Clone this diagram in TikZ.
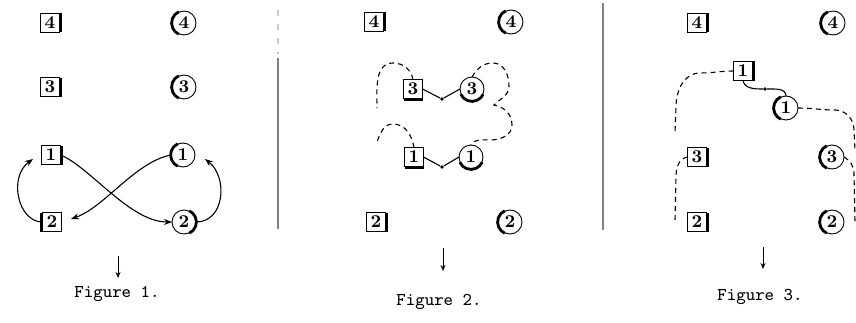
\documentclass[tikz,border=0pt]{standalone}
\usetikzlibrary{arrows.meta}

\tikzset{
  sqr/.style={draw, rectangle, minimum size=9.5pt, inner sep=0pt, outer sep=0pt, font=\small\bfseries, line width=0.45pt},
  circ/.style={draw, circle, minimum size=12pt, inner sep=0pt, outer sep=0pt, font=\small\bfseries, line width=0.45pt},
  heavy/.style={line width=1.4pt},
  link/.style={-{Stealth[length=4pt,width=3pt]}, line width=0.55pt},
  loose/.style={dash pattern=on 2.5pt off 2pt, line width=0.55pt},
  tie/.style={line width=0.55pt},
  knot/.style={circle, fill, inner sep=0pt, minimum size=1.8pt},
  drop/.style={-{Stealth[length=3pt,width=2.5pt]}, line width=0.5pt},
  rule/.style={gray, line width=0.6pt},
  caption/.style={font=\small\ttfamily}
}

\begin{document}
\begin{tikzpicture}[x=0.5pt,y=0.5pt]
  \useasboundingbox (0,0) rectangle (856,322);

  % Figure 1
  \node[sqr]  (q14) at (50,299) {4};
  \node[circ] (o14) at (184,299) {4};
  \node[sqr]  (q13) at (50,235) {3};
  \node[circ] (o13) at (184,235) {3};
  \node[sqr]  (q11) at (51,167) {1};
  \node[circ] (o11) at (183,167) {1};
  \node[sqr]  (q12) at (52,100) {2};
  \node[circ] (o12) at (184,100) {2};

  \draw[link] (q12.west) .. controls (18,100) and (8,145) .. (33,163);
  \draw[link] (q11.east) .. controls (90,155) and (130,100) .. (o12.west);
  \draw[link] (o11.west) .. controls (135,160) and (105,115) .. (71,103);
  \draw[link] (o12.east) .. controls (225,100) and (228,145) .. (205,163);

  \coordinate (ar1) at (118,66);
  \draw[drop] (ar1) -- ++(0,-22);
  \node[caption] (cap1) at (117,28) {Figure 1.};

  % rules
  \draw[rule] (278,264) -- (278,93);
  \draw[rule, gray!40, dash pattern=on 3pt off 4pt] (278,312) -- (278,268);
  \draw[rule] (603,319) -- (603,92);

  % Figure 2
  \node[sqr]  (q24) at (374,300) {4};
  \node[circ] (o24) at (511,300) {4};
  \node[sqr]  (q23) at (413,233) {3};
  \node[circ] (o23) at (472,233) {3};
  \node[sqr]  (q21) at (414,165) {1};
  \node[circ] (o21) at (471,165) {1};
  \node[sqr]  (q22) at (376,100) {2};
  \node[circ] (o22) at (510,100) {2};
  \node[knot] (d23) at (442,223) {};
  \node[knot] (d21) at (442,155) {};

  \draw[tie] (q23.east) -- (d23) -- (o23.west);
  \draw[tie] (q21.east) -- (d21) -- (o21.west);
  \draw[loose] (q23.north) to[out=100,in=0] (393,259) to[out=180,in=90] (377,214);
  \draw[loose] (o23.north) to[out=60,in=180] (493,259) to[out=0,in=90] (509,236)
    to[out=-90,in=45] (494,217) to[out=-10,in=90] (512,197) to[out=-90,in=0] (490,182)
    to[out=180,in=60] (o21.north);
  \draw[loose] (q21.north) to[out=100,in=0] (393,198) to[out=180,in=70] (377,180);

  \coordinate (ar2) at (443,74);
  \draw[drop] (ar2) -- ++(0,-23);
  \node[caption] (cap2) at (439,20) {Figure 2.};

  % Figure 3
  \node[sqr]  (q34) at (697,299) {4};
  \node[circ] (o34) at (833,299) {4};
  \node[sqr]  (q31) at (743,251) {1};
  \node[circ] (o31) at (786,214) {1};
  \node[sqr]  (q33) at (697,165) {3};
  \node[circ] (o33) at (832,165) {3};
  \node[sqr]  (q32) at (697,100) {2};
  \node[circ] (o32) at (832,100) {2};
  \node[knot] (d31) at (765,233) {};

  \draw[tie] (q31.south) to[out=-80,in=180] (d31) to[out=0,in=90] (o31.north);
  \draw[loose] (q31.west) to[out=180,in=0] (700,249) to[out=180,in=90] (676,215) -- (675,189);
  \draw[loose] (o31.east) to[out=0,in=180] (835,212) to[out=0,in=90] (854,192) -- (855,172);
  \draw[loose] (o33.east) to[out=-30,in=90] (854,148) -- (855,100);
  \draw[loose] (q33.west) to[out=190,in=90] (676,145) -- (675,102);

  \coordinate (ar3) at (763,75);
  \draw[drop] (ar3) -- ++(0,-22);
  \node[caption] (cap3) at (760,25) {Figure 3.};

  % heavy sides
  \foreach \n in {q14,q13,q11,q24,q22,q34,q31,q33,q32}
    \draw[heavy] ([xshift=0.4pt]\n.north east) -- ([xshift=0.4pt]\n.south east);
  \draw[heavy] ([xshift=-0.4pt]q12.north west) -- ([xshift=-0.4pt]q12.south west);
  \foreach \n in {q23,q21}
    \draw[heavy] ([yshift=-0.4pt]\n.south west) -- ([yshift=-0.4pt]\n.south east);
  \foreach \n in {o14,o13,o11,o24,o22,o34,o31,o33,o32}
    \draw[heavy] ([shift={(115:6.2pt)}]\n.center) arc[start angle=115,end angle=245,radius=6.2pt];
  \draw[heavy] ([shift={(-65:6.2pt)}]o12.center) arc[start angle=-65,end angle=65,radius=6.2pt];
  \foreach \n in {o23,o21}
    \draw[heavy] ([shift={(205:6.2pt)}]\n.center) arc[start angle=205,end angle=335,radius=6.2pt];
\end{tikzpicture}
\end{document}
